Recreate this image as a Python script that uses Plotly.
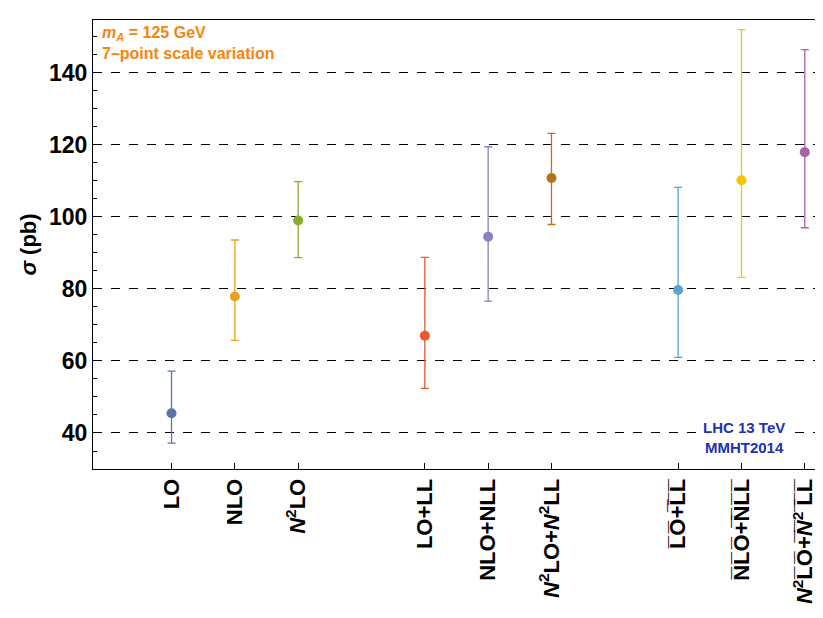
import plotly.graph_objects as go

positions = [1, 2, 3, 5, 6, 7, 9, 10, 11]
ol = lambda s: "".join(c + "\u0305" for c in s)
labels = ["LO", "NLO", "<i>N</i><sup>2</sup>LO", "LO+LL", "NLO+NLL",
          "<i>N</i><sup>2</sup>LO+<i>N</i><sup>2</sup>LL",
          ol("LO+LL"), ol("NLO+NLL"), "<i>N</i><sup>2</sup>" + ol("LO+") + "<i>" + ol("N") + "</i><sup>2</sup>" + ol(" LL")]
central = [45.5, 77.9, 99.0, 67.0, 94.5, 110.8, 79.7, 110.2, 118.0]
upper = [57.2, 93.6, 109.8, 88.8, 119.5, 123.2, 108.2, 152.0, 146.5]
lower = [37.2, 65.7, 88.7, 52.4, 76.6, 97.9, 61.0, 83.2, 97.0]
colors = ["#5a74a8", "#e6a21e", "#8aab32", "#e8582a", "#8e7ec0", "#b8711c",
          "#5ba3cf", "#f5c400", "#a862a2"]
yticks = [40, 60, 80, 100, 120, 140]

fig = go.Figure()
for x, c, u, l, col in zip(positions, central, upper, lower, colors):
    fig.add_trace(go.Scatter(
        x=[x], y=[c], mode="markers",
        marker=dict(color=col, size=10),
        error_y=dict(type="data", symmetric=False, array=[u - c], arrayminus=[c - l],
                     color=col, thickness=1.3, width=4),
        showlegend=False))

fig.update_layout(
    width=823, height=618, margin=dict(l=85, r=11, t=12, b=157),
    plot_bgcolor="white", paper_bgcolor="white",
    font=dict(family="Liberation Sans, Arial", color="black"),
    xaxis=dict(range=[-0.24, 11.24], tickvals=positions, ticktext=labels, tickangle=-90,
               tickfont=dict(size=22, family="Liberation Sans", weight="bold"), automargin=False,
               showgrid=False, zeroline=False, showline=True, linecolor="black", mirror=True,
               ticks="inside", ticklen=6, tickcolor="black"),
    yaxis=dict(range=[30, 154.7], tickvals=yticks, automargin=False,
               tickfont=dict(size=23, family="Liberation Sans", weight="bold"),
               title=dict(text="<b><i>σ</i> (pb)</b>", font=dict(size=22), standoff=6),
               showgrid=True, gridcolor="black", griddash="dash", gridwidth=1,
               zeroline=False, showline=True, linecolor="black", mirror=True,
               ticks="inside", ticklen=8, tickcolor="black",
               minor=dict(dtick=5, tick0=0, ticks="inside", ticklen=4, tickcolor="black", showgrid=False)),
    annotations=[
        dict(xref="paper", yref="paper", x=0.01, y=0.995, xanchor="left", yanchor="top", align="left",
             showarrow=False, text="<b><i>m<sub>A</sub></i> = 125 GeV<br>7–point scale variation</b>",
             font=dict(size=16, color="#f5850f")),
        dict(xref="paper", yref="paper", x=0.955, y=0.025, xanchor="right", yanchor="bottom", align="center",
             showarrow=False, text="<b>LHC 13 TeV<br>MMHT2014</b>", bgcolor="white",
             font=dict(size=15, color="#1a33b0")),
    ],
)
fig.write_html("out.html")
